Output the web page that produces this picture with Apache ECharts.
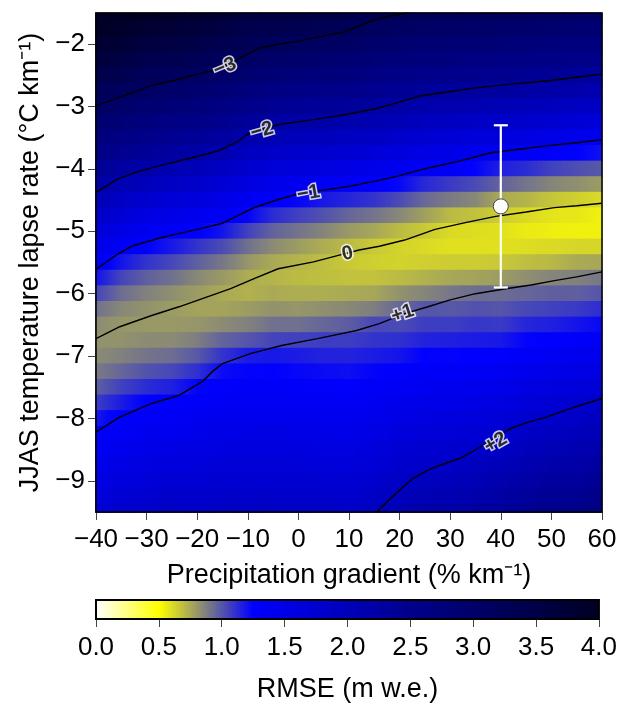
<!DOCTYPE html>
<html>
<head>
<meta charset="utf-8">
<script src="https://cdn.jsdelivr.net/npm/echarts@6/dist/echarts.min.js"></script>
<style>
    html, body { margin: 0; background: #fff; }
    #main { width: 620px; height: 704px; }
</style>
</head>
<body>
<div id="main"></div>
<script>
// 网格中心 (precipitation gradient, lapse rate)
const xCells = [-40, -35, -30, -25, -20, -15, -10, -5, 0, 5, 10, 15, 20, 25, 30, 35, 40, 45, 50, 55, 60];
const yCells = [-1.5, -1.75, -2, -2.25, -2.5, -2.75, -3, -3.25, -3.5, -3.75, -4, -4.25, -4.5, -4.75, -5, -5.25,
    -5.5, -5.75, -6, -6.25, -6.5, -6.75, -7, -7.25, -7.5, -7.75, -8, -8.25, -8.5, -8.75, -9, -9.25, -9.5];
// RMSE 读图估计值, 每行对应一个 yCells
const rmse = [
    [4.0, 4.0, 4.0, 3.92, 3.85, 3.73, 3.60, 3.57, 3.54, 3.49, 3.43, 3.33, 3.28, 3.24, 3.21, 3.19, 3.17, 3.14, 3.11, 3.07, 3.04],
    [3.97, 3.92, 3.80, 3.74, 3.66, 3.55, 3.41, 3.39, 3.35, 3.29, 3.24, 3.15, 3.10, 3.06, 3.03, 3.02, 2.99, 2.96, 2.93, 2.90, 2.86],
    [3.80, 3.74, 3.61, 3.55, 3.47, 3.36, 3.28, 3.19, 3.16, 3.11, 3.07, 2.98, 2.93, 2.89, 2.86, 2.84, 2.82, 2.79, 2.75, 2.72, 2.69],
    [3.62, 3.56, 3.42, 3.36, 3.28, 3.18, 3.09, 3.01, 2.97, 2.93, 2.89, 2.81, 2.76, 2.72, 2.70, 2.66, 2.65, 2.62, 2.59, 2.56, 2.52],
    [3.45, 3.37, 3.23, 3.18, 3.10, 3.02, 2.90, 2.82, 2.79, 2.74, 2.71, 2.64, 2.59, 2.54, 2.52, 2.49, 2.47, 2.44, 2.42, 2.38, 2.34],
    [3.27, 3.18, 3.07, 3.00, 2.93, 2.84, 2.71, 2.63, 2.59, 2.56, 2.53, 2.47, 2.42, 2.36, 2.34, 2.30, 2.29, 2.25, 2.20, 2.16, 2.11],
    [3.10, 3.00, 2.90, 2.82, 2.75, 2.66, 2.53, 2.44, 2.41, 2.38, 2.35, 2.30, 2.24, 2.16, 2.12, 2.09, 2.05, 2.02, 1.98, 1.93, 1.88],
    [2.93, 2.82, 2.72, 2.64, 2.57, 2.48, 2.34, 2.26, 2.23, 2.20, 2.15, 2.10, 2.03, 1.96, 1.91, 1.87, 1.84, 1.80, 1.76, 1.71, 1.65],
    [2.75, 2.63, 2.54, 2.46, 2.39, 2.30, 2.16, 2.06, 2.02, 1.99, 1.95, 1.90, 1.83, 1.76, 1.72, 1.66, 1.62, 1.58, 1.53, 1.48, 1.43],
    [2.58, 2.45, 2.37, 2.28, 2.21, 2.11, 1.96, 1.86, 1.82, 1.78, 1.75, 1.69, 1.62, 1.55, 1.51, 1.46, 1.39, 1.34, 1.30, 1.25, 1.20],
    [2.41, 2.27, 2.19, 2.08, 2.02, 1.91, 1.77, 1.67, 1.62, 1.59, 1.54, 1.49, 1.42, 1.37, 1.32, 1.24, 1.16, 1.12, 1.06, 1.02, 0.99],
    [2.25, 2.08, 1.98, 1.89, 1.82, 1.72, 1.58, 1.48, 1.43, 1.39, 1.36, 1.30, 1.23, 1.13, 1.08, 1.03, 0.96, 0.91, 0.86, 0.83, 0.79],
    [2.07, 1.89, 1.78, 1.70, 1.63, 1.53, 1.41, 1.30, 1.23, 1.18, 1.14, 1.10, 1.03, 0.94, 0.89, 0.85, 0.75, 0.72, 0.67, 0.64, 0.61],
    [1.89, 1.71, 1.58, 1.51, 1.44, 1.35, 1.24, 1.12, 1.06, 1.01, 0.95, 0.91, 0.85, 0.78, 0.70, 0.68, 0.65, 0.61, 0.58, 0.57, 0.54],
    [1.71, 1.53, 1.40, 1.33, 1.27, 1.19, 1.06, 0.96, 0.91, 0.86, 0.80, 0.76, 0.70, 0.66, 0.61, 0.60, 0.59, 0.56, 0.55, 0.54, 0.54],
    [1.53, 1.35, 1.25, 1.18, 1.10, 1.03, 0.92, 0.84, 0.79, 0.74, 0.70, 0.66, 0.63, 0.61, 0.59, 0.59, 0.59, 0.60, 0.61, 0.62, 0.62],
    [1.36, 1.19, 1.10, 1.04, 0.97, 0.90, 0.81, 0.75, 0.72, 0.69, 0.66, 0.64, 0.63, 0.64, 0.65, 0.65, 0.66, 0.69, 0.71, 0.75, 0.76],
    [1.20, 1.05, 0.97, 0.92, 0.85, 0.80, 0.74, 0.72, 0.70, 0.69, 0.68, 0.68, 0.70, 0.73, 0.76, 0.77, 0.79, 0.83, 0.86, 0.87, 0.90],
    [1.05, 0.93, 0.87, 0.83, 0.79, 0.75, 0.73, 0.75, 0.74, 0.74, 0.75, 0.76, 0.82, 0.86, 0.90, 0.93, 0.93, 0.95, 0.97, 0.97, 1.00],
    [0.92, 0.85, 0.82, 0.79, 0.77, 0.77, 0.79, 0.82, 0.81, 0.83, 0.85, 0.88, 0.95, 1.00, 0.99, 1.01, 1.00, 1.04, 1.06, 1.08, 1.12],
    [0.84, 0.81, 0.80, 0.80, 0.81, 0.84, 0.87, 0.92, 0.92, 0.95, 0.98, 1.04, 1.03, 1.07, 1.07, 1.09, 1.08, 1.14, 1.16, 1.19, 1.23],
    [0.82, 0.82, 0.84, 0.84, 0.88, 0.96, 1.00, 1.05, 1.06, 1.07, 1.07, 1.10, 1.11, 1.15, 1.16, 1.17, 1.18, 1.24, 1.27, 1.30, 1.35],
    [0.84, 0.87, 0.91, 0.93, 0.99, 1.10, 1.17, 1.18, 1.17, 1.15, 1.15, 1.17, 1.19, 1.25, 1.24, 1.26, 1.28, 1.34, 1.38, 1.42, 1.47],
    [0.89, 0.95, 1.01, 1.04, 1.11, 1.22, 1.24, 1.25, 1.23, 1.22, 1.21, 1.24, 1.28, 1.33, 1.33, 1.35, 1.39, 1.45, 1.49, 1.53, 1.58],
    [0.97, 1.06, 1.12, 1.16, 1.24, 1.29, 1.31, 1.32, 1.30, 1.29, 1.28, 1.32, 1.36, 1.41, 1.41, 1.44, 1.49, 1.55, 1.60, 1.65, 1.69],
    [1.07, 1.17, 1.26, 1.28, 1.32, 1.37, 1.38, 1.39, 1.38, 1.37, 1.36, 1.40, 1.45, 1.50, 1.50, 1.53, 1.59, 1.66, 1.71, 1.76, 1.81],
    [1.18, 1.29, 1.33, 1.36, 1.40, 1.44, 1.45, 1.46, 1.45, 1.44, 1.43, 1.48, 1.53, 1.59, 1.60, 1.63, 1.69, 1.76, 1.81, 1.87, 1.93],
    [1.30, 1.36, 1.42, 1.44, 1.48, 1.52, 1.53, 1.54, 1.52, 1.51, 1.50, 1.55, 1.62, 1.69, 1.69, 1.72, 1.79, 1.87, 1.92, 1.99, 2.05],
    [1.37, 1.45, 1.50, 1.54, 1.56, 1.60, 1.60, 1.61, 1.60, 1.59, 1.58, 1.64, 1.71, 1.77, 1.78, 1.81, 1.90, 1.98, 2.04, 2.10, 2.17],
    [1.46, 1.53, 1.59, 1.63, 1.64, 1.68, 1.68, 1.69, 1.67, 1.66, 1.65, 1.71, 1.79, 1.85, 1.87, 1.93, 2.01, 2.10, 2.16, 2.22, 2.29],
    [1.55, 1.62, 1.67, 1.72, 1.72, 1.76, 1.76, 1.76, 1.75, 1.74, 1.73, 1.79, 1.88, 1.96, 1.98, 2.04, 2.13, 2.21, 2.28, 2.34, 2.41],
    [1.63, 1.71, 1.76, 1.81, 1.80, 1.84, 1.83, 1.84, 1.82, 1.81, 1.79, 1.87, 1.98, 2.06, 2.09, 2.16, 2.24, 2.33, 2.40, 2.45, 2.54],
    [1.73, 1.80, 1.85, 1.90, 1.88, 1.92, 1.91, 1.91, 1.90, 1.89, 1.87, 1.96, 2.07, 2.17, 2.19, 2.27, 2.35, 2.44, 2.52, 2.57, 2.65]
];

// 等值线 (mass balance bias), 读图得到的点
const contourM3 = [[-40, -2.99], [-35, -2.84], [-29, -2.66], [-25, -2.59], [-20, -2.48], [-17.3, -2.43], [-14, -2.33],
    [-11, -2.2], [-8, -2.07], [-4, -2.0], [0, -1.95], [5, -1.87], [9.2, -1.8], [14, -1.64], [18, -1.55], [21.7, -1.5]];
const contourM2 = [[-40, -4.38], [-36, -4.17], [-32, -4.05], [-28, -3.96], [-22, -3.84], [-15.8, -3.71], [-12, -3.56],
    [-10, -3.44], [-7, -3.36], [-4, -3.29], [3, -3.21], [10, -3.12], [15, -3.04], [19.4, -2.94], [24, -2.83], [29, -2.77],
    [35, -2.7], [42, -2.64], [49, -2.59], [55, -2.53], [60, -2.48]];
const contourM1 = [[-40, -5.61], [-36, -5.38], [-33, -5.24], [-28, -5.12], [-24.4, -5.05], [-20, -4.97], [-15, -4.87],
    [-12, -4.75], [-8.75, -4.62], [-4, -4.49], [0, -4.4], [5, -4.34], [10, -4.28], [15, -4.2], [19.4, -4.12], [23, -4.04],
    [27, -3.96], [32, -3.87], [38, -3.74], [44, -3.68], [49, -3.63], [55, -3.58], [60, -3.53]];
const contour0 = [[-40, -6.72], [-35.3, -6.53], [-29, -6.35], [-23.6, -6.21], [-18, -6.05], [-13.4, -5.92], [-8.75, -5.76],
    [-4, -5.6], [3, -5.49], [7.7, -5.39], [12, -5.3], [16, -5.24], [21, -5.14], [27, -4.97], [33, -4.86], [39, -4.76],
    [45, -4.69], [50.6, -4.62], [55, -4.59], [60, -4.55]];
const contourP1 = [[-40, -8.22], [-35.3, -7.98], [-29, -7.76], [-23.6, -7.63], [-19, -7.41], [-17, -7.25], [-15, -7.12],
    [-9.5, -6.96], [-3.3, -6.83], [3.75, -6.72], [11.5, -6.59], [16, -6.48], [21, -6.32], [25.6, -6.21], [30, -6.1],
    [35, -6.0], [41, -5.92], [46, -5.86], [50.6, -5.79], [55, -5.73], [60, -5.65]];
const contourP2 = [[15.5, -9.5], [18, -9.3], [20, -9.15], [22.5, -8.97], [25.6, -8.83], [28, -8.75], [31.9, -8.64],
    [34, -8.55], [36.5, -8.43], [42, -8.16], [45, -8.07], [49, -7.98], [54.5, -7.82], [60, -7.68]];
// 等值线标注: x, y, 文字, 旋转角
const contourLabels = [
    [-14.5, -2.37, '\u22123', 22],
    [-7.2, -3.39, '\u22122', 16],
    [2.0, -4.39, '\u22121', 10],
    [9.7, -5.36, '0', 12],
    [20.6, -6.32, '+1', 18],
    [39.0, -8.39, '+2', 30]
];
// 最优值及误差范围
const bestPoint = [40, -4.6];
const errRange = [40, -5.9, -3.3];

// 色标
const colorStops = [[0, '#ffffff'], [0.5, '#ffff00'], [1.25, '#0000ff'], [2.5, '#00008c'], [4, '#000024']];
const yTicks = [-9, -8, -7, -6, -5, -4, -3, -2];
const cbTicks = [0, 0.5, 1, 1.5, 2, 2.5, 3, 3.5, 4];

const FONT = 'Liberation Sans, Arial, Helvetica, sans-serif';

function hexRgb(h) {
    return [parseInt(h.slice(1, 3), 16), parseInt(h.slice(3, 5), 16), parseInt(h.slice(5, 7), 16)];
}
// 根据 RMSE 取颜色
function rmseColor(v) {
    for (let i = 1; i < colorStops.length; i++) {
        if (v <= colorStops[i][0] || i == colorStops.length - 1) {
            let a = colorStops[i - 1], b = colorStops[i];
            let t = Math.min(1, Math.max(0, (v - a[0]) / (b[0] - a[0])));
            let ca = hexRgb(a[1]), cb = hexRgb(b[1]);
            let c = ca.map((k, j) => Math.round(k + (cb[j] - k) * t));
            return 'rgb(' + c.join(',') + ')';
        }
    }
}
function minus(v) {
    return String(v).replace('-', '\u2212');
}

// 每个格子: x, y, 值, 左右相邻格的值 (只用于横向着色过渡)
let cells = [];
yCells.forEach((y, i) => {
    xCells.forEach((x, j) => {
        let row = rmse[i];
        cells.push([x, y, row[j], row[Math.max(j - 1, 0)], row[Math.min(j + 1, row.length - 1)]]);
    });
});

function contourSeries(data) {
    return {
        type: 'line',
        data: data,
        showSymbol: false,
        symbol: 'none',
        silent: true,
        z: 3,
        lineStyle: { color: '#000', width: 1.4 }
    };
}

let myChart = echarts.init(document.getElementById('main'));
let option = {
    animation: false,
    textStyle: { fontFamily: FONT },
    grid: [
        { left: 96, right: 18, top: 13, height: 499, show: true, borderColor: '#000', borderWidth: 1.5, z: 6 },
        { left: 96, right: 18, top: 600, height: 22, show: true, borderColor: '#000', borderWidth: 2, z: 6 }
    ],
    xAxis: [
        {
            type: 'value', gridIndex: 0, min: -40, max: 60, interval: 10,
            name: 'Precipitation gradient (% km\u207B\u00B9)',
            nameLocation: 'middle', nameGap: 50,
            nameTextStyle: { fontSize: 27, color: '#000', fontFamily: FONT },
            axisLine: { show: true, onZero: false, lineStyle: { color: '#000', width: 1.5 } },
            axisTick: { show: true, length: 8, lineStyle: { color: '#444' } },
            axisLabel: { fontSize: 26, color: '#000', margin: 15, formatter: minus },
            splitLine: { show: false }
        },
        {
            type: 'value', gridIndex: 1, min: 0, max: 4, interval: 0.5,
            name: 'RMSE (m w.e.)',
            nameLocation: 'middle', nameGap: 57,
            nameTextStyle: { fontSize: 27, color: '#000', fontFamily: FONT },
            axisLine: { show: false },
            axisTick: { show: true, length: 8, lineStyle: { color: '#444' } },
            axisLabel: { fontSize: 26, color: '#000', margin: 16, formatter: v => v.toFixed(1) },
            splitLine: { show: false }
        }
    ],
    yAxis: [
        {
            type: 'value', gridIndex: 0, min: -9.5, max: -1.5,
            name: 'JJAS temperature lapse rate (\u00B0C km\u207B\u00B9)',
            nameLocation: 'middle', nameGap: 34, nameRotate: 90,
            nameTextStyle: { fontSize: 27, color: '#000', fontFamily: FONT },
            axisLine: { show: true, onZero: false, lineStyle: { color: '#000', width: 1.5 } },
            axisTick: { show: true, length: 8, customValues: yTicks, lineStyle: { color: '#444' } },
            axisLabel: { fontSize: 26, color: '#000', margin: 11, customValues: yTicks, formatter: minus },
            splitLine: { show: false }
        },
        { type: 'value', gridIndex: 1, min: 0, max: 1, show: false }
    ],
    series: [
        // RMSE 网格, 横向渐变着色
        {
            type: 'custom',
            xAxisIndex: 0, yAxisIndex: 0,
            silent: true,
            z: 1,
            data: cells,
            renderItem: function (params, api) {
                let x = api.value(0), y = api.value(1), v = api.value(2);
                let p0 = api.coord([Math.max(x - 2.5, -40), Math.min(y + 0.125, -1.5)]);
                let p1 = api.coord([Math.min(x + 2.5, 60), Math.max(y - 0.125, -9.5)]);
                let gl = api.coord([x - 2.5, y])[0], gr = api.coord([x + 2.5, y])[0];
                let fill = new echarts.graphic.LinearGradient(gl, 0, gr, 0, [
                    { offset: 0, color: rmseColor((v + api.value(3)) / 2) },
                    { offset: 0.5, color: rmseColor(v) },
                    { offset: 1, color: rmseColor((v + api.value(4)) / 2) }
                ], true);
                return {
                    type: 'rect',
                    shape: { x: p0[0] - 0.5, y: p0[1] - 0.5, width: p1[0] - p0[0] + 1, height: p1[1] - p0[1] + 1 },
                    style: { fill: fill }
                };
            }
        },
        contourSeries(contourM3),
        contourSeries(contourM2),
        contourSeries(contourM1),
        contourSeries(contour0),
        contourSeries(contourP1),
        contourSeries(contourP2),
        // 等值线标注
        {
            type: 'scatter',
            silent: true,
            z: 4,
            symbolSize: 0,
            data: contourLabels.map(d => ({
                value: [d[0], d[1]],
                label: { formatter: d[2], rotate: d[3] }
            })),
            label: {
                show: true, position: 'inside',
                fontSize: 20, fontWeight: 'bold', fontFamily: FONT, color: '#000',
                textBorderColor: '#fff', textBorderWidth: 3
            }
        },
        // 误差线
        {
            type: 'custom',
            silent: true,
            z: 5,
            data: [errRange],
            renderItem: function (params, api) {
                let lo = api.coord([api.value(0), api.value(1)]);
                let hi = api.coord([api.value(0), api.value(2)]);
                let st = { stroke: '#fff', lineWidth: 2.2 };
                return {
                    type: 'group',
                    children: [
                        { type: 'line', shape: { x1: lo[0], y1: lo[1], x2: hi[0], y2: hi[1] }, style: st },
                        { type: 'line', shape: { x1: lo[0] - 7, y1: lo[1], x2: lo[0] + 7, y2: lo[1] }, style: st },
                        { type: 'line', shape: { x1: hi[0] - 7, y1: hi[1], x2: hi[0] + 7, y2: hi[1] }, style: st }
                    ]
                };
            }
        },
        {
            type: 'scatter',
            silent: true,
            z: 6,
            symbolSize: 15,
            data: [bestPoint],
            itemStyle: { color: '#fff', borderColor: '#444', borderWidth: 1, opacity: 1 }
        },
        // 色标条
        {
            type: 'custom',
            xAxisIndex: 1, yAxisIndex: 1,
            silent: true,
            data: [[cbTicks[0], cbTicks[cbTicks.length - 1]]],
            renderItem: function (params, api) {
                let p0 = api.coord([api.value(0), 1]);
                let p1 = api.coord([api.value(1), 0]);
                let span = api.value(1) - api.value(0);
                return {
                    type: 'rect',
                    shape: { x: p0[0], y: p0[1], width: p1[0] - p0[0], height: p1[1] - p0[1] },
                    style: {
                        fill: new echarts.graphic.LinearGradient(0, 0, 1, 0,
                            colorStops.map(s => ({ offset: s[0] / span, color: s[1] })))
                    }
                };
            }
        }
    ]
};
myChart.setOption(option);
</script>
</body>
</html>
